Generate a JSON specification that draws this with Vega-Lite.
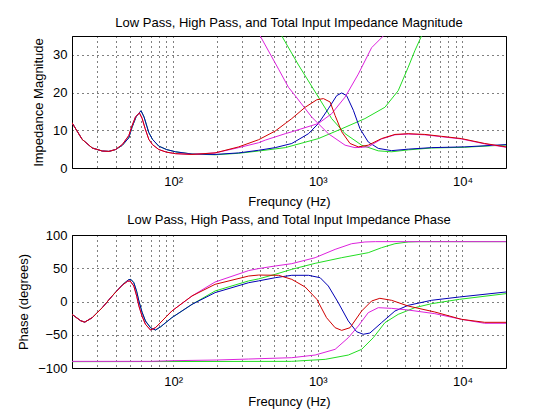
{
  "$schema": "https://vega.github.io/schema/vega-lite/v6.json",
  "padding": {"left": 17, "top": 16, "right": 5, "bottom": 5},
  "spacing": 4,
  "background": "white",
  "config": {
    "font": "Liberation Sans",
    "view": {"stroke": "black", "strokeWidth": 1},
    "title": {"fontSize": 13, "fontWeight": "normal", "color": "black", "offset": 6, "anchor": "middle"},
    "axis": {
      "labelFontSize": 13,
      "titleFontSize": 13,
      "titleFontWeight": "normal",
      "labelColor": "black",
      "titleColor": "black",
      "domain": false,
      "grid": true,
      "gridColor": "black",
      "gridDash": [1, 4],
      "gridOpacity": 1,
      "ticks": false,
      "labelPadding": 5,
      "titlePadding": 7
    }
  },
  "datasets": {
    "mag": [
      {"f": 20, "v": 12.0, "s": "LP1"}, {"f": 23.5, "v": 7.6, "s": "LP1"}, {"f": 27.6, "v": 5.3, "s": "LP1"}, {"f": 32.4, "v": 4.5, "s": "LP1"}, {"f": 36, "v": 4.4, "s": "LP1"}, {"f": 40, "v": 4.9, "s": "LP1"}, {"f": 44.5, "v": 6.0, "s": "LP1"}, {"f": 49.4, "v": 8.0, "s": "LP1"}, {"f": 52, "v": 10.8, "s": "LP1"}, {"f": 55.5, "v": 13.6, "s": "LP1"}, {"f": 60, "v": 15.2, "s": "LP1"}, {"f": 63, "v": 13.5, "s": "LP1"}, {"f": 67.9, "v": 9.4, "s": "LP1"}, {"f": 72, "v": 7.6, "s": "LP1"}, {"f": 79.6, "v": 5.8, "s": "LP1"}, {"f": 90, "v": 4.9, "s": "LP1"}, {"f": 104, "v": 4.3, "s": "LP1"}, {"f": 135, "v": 3.7, "s": "LP1"}, {"f": 195, "v": 3.5, "s": "LP1"}, {"f": 284, "v": 3.9, "s": "LP1"}, {"f": 390, "v": 4.5, "s": "LP1"}, {"f": 596, "v": 5.4, "s": "LP1"}, {"f": 1010, "v": 7.8, "s": "LP1"}, {"f": 1463, "v": 10.4, "s": "LP1"}, {"f": 2118, "v": 13.1, "s": "LP1"}, {"f": 2911, "v": 16.1, "s": "LP1"}, {"f": 3597, "v": 20.5, "s": "LP1"}, {"f": 4217, "v": 26.7, "s": "LP1"}, {"f": 4688, "v": 31.1, "s": "LP1"}, {"f": 5210, "v": 35, "s": "LP1"}, {"f": 5800, "v": 40, "s": "LP1"},
      {"f": 471, "v": 40, "s": "HP1"}, {"f": 564, "v": 35, "s": "HP1"}, {"f": 736, "v": 27.3, "s": "HP1"}, {"f": 1010, "v": 18.8, "s": "HP1"}, {"f": 1247, "v": 13.1, "s": "HP1"}, {"f": 1544, "v": 9.1, "s": "HP1"}, {"f": 2010, "v": 6.05, "s": "HP1"}, {"f": 2618, "v": 4.55, "s": "HP1"}, {"f": 3236, "v": 4.3, "s": "HP1"}, {"f": 4217, "v": 4.8, "s": "HP1"}, {"f": 6109, "v": 5.3, "s": "HP1"}, {"f": 10370, "v": 5.5, "s": "HP1"}, {"f": 20000, "v": 6.1, "s": "HP1"},
      {"f": 20, "v": 12.0, "s": "T1"}, {"f": 23.5, "v": 7.6, "s": "T1"}, {"f": 27.6, "v": 5.3, "s": "T1"}, {"f": 32.4, "v": 4.5, "s": "T1"}, {"f": 36, "v": 4.4, "s": "T1"}, {"f": 40, "v": 4.9, "s": "T1"}, {"f": 44.5, "v": 6.0, "s": "T1"}, {"f": 49.4, "v": 8.0, "s": "T1"}, {"f": 52, "v": 10.8, "s": "T1"}, {"f": 55.5, "v": 13.6, "s": "T1"}, {"f": 60, "v": 15.2, "s": "T1"}, {"f": 63, "v": 13.5, "s": "T1"}, {"f": 67.9, "v": 9.4, "s": "T1"}, {"f": 72, "v": 7.6, "s": "T1"}, {"f": 79.6, "v": 5.8, "s": "T1"}, {"f": 90, "v": 4.9, "s": "T1"}, {"f": 104, "v": 4.3, "s": "T1"}, {"f": 135, "v": 3.7, "s": "T1"}, {"f": 195, "v": 3.6, "s": "T1"}, {"f": 284, "v": 4.0, "s": "T1"}, {"f": 390, "v": 4.7, "s": "T1"}, {"f": 508, "v": 5.4, "s": "T1"}, {"f": 661, "v": 6.5, "s": "T1"}, {"f": 863, "v": 9.1, "s": "T1"}, {"f": 1010, "v": 11.8, "s": "T1"}, {"f": 1183, "v": 15.7, "s": "T1"}, {"f": 1352, "v": 19.2, "s": "T1"}, {"f": 1463, "v": 19.9, "s": "T1"}, {"f": 1581, "v": 19.2, "s": "T1"}, {"f": 1762, "v": 15.3, "s": "T1"}, {"f": 1958, "v": 10.4, "s": "T1"}, {"f": 2232, "v": 6.9, "s": "T1"}, {"f": 2618, "v": 5.2, "s": "T1"}, {"f": 3236, "v": 4.6, "s": "T1"}, {"f": 4217, "v": 5.0, "s": "T1"}, {"f": 6109, "v": 5.4, "s": "T1"}, {"f": 10370, "v": 5.6, "s": "T1"}, {"f": 20000, "v": 6.2, "s": "T1"},
      {"f": 20, "v": 12.0, "s": "LP2"}, {"f": 23.5, "v": 7.6, "s": "LP2"}, {"f": 27.6, "v": 5.3, "s": "LP2"}, {"f": 32.4, "v": 4.5, "s": "LP2"}, {"f": 36, "v": 4.4, "s": "LP2"}, {"f": 40, "v": 4.9, "s": "LP2"}, {"f": 44.5, "v": 6.2, "s": "LP2"}, {"f": 49.4, "v": 8.6, "s": "LP2"}, {"f": 52, "v": 11.2, "s": "LP2"}, {"f": 55, "v": 13.6, "s": "LP2"}, {"f": 58.5, "v": 14.6, "s": "LP2"}, {"f": 61, "v": 13.2, "s": "LP2"}, {"f": 64, "v": 10.5, "s": "LP2"}, {"f": 67.9, "v": 7.6, "s": "LP2"}, {"f": 72, "v": 6.2, "s": "LP2"}, {"f": 79.6, "v": 4.9, "s": "LP2"}, {"f": 90, "v": 4.2, "s": "LP2"}, {"f": 104, "v": 3.8, "s": "LP2"}, {"f": 135, "v": 3.6, "s": "LP2"}, {"f": 195, "v": 4.0, "s": "LP2"}, {"f": 284, "v": 5.4, "s": "LP2"}, {"f": 390, "v": 6.7, "s": "LP2"}, {"f": 434, "v": 7.4, "s": "LP2"}, {"f": 596, "v": 9.1, "s": "LP2"}, {"f": 661, "v": 9.6, "s": "LP2"}, {"f": 1010, "v": 11.8, "s": "LP2"}, {"f": 1247, "v": 14.4, "s": "LP2"}, {"f": 1544, "v": 18.8, "s": "LP2"}, {"f": 1906, "v": 24.9, "s": "LP2"}, {"f": 2355, "v": 31.9, "s": "LP2"}, {"f": 2836, "v": 35, "s": "LP2"}, {"f": 3300, "v": 40, "s": "LP2"},
      {"f": 338, "v": 40, "s": "HP2"}, {"f": 400, "v": 35, "s": "HP2"}, {"f": 536, "v": 26.2, "s": "HP2"}, {"f": 627, "v": 21.4, "s": "HP2"}, {"f": 697, "v": 19.2, "s": "HP2"}, {"f": 908, "v": 13.5, "s": "HP2"}, {"f": 1183, "v": 9.1, "s": "HP2"}, {"f": 1544, "v": 6.05, "s": "HP2"}, {"f": 1807, "v": 5.4, "s": "HP2"}, {"f": 2232, "v": 5.6, "s": "HP2"}, {"f": 2760, "v": 7.7, "s": "HP2"}, {"f": 3414, "v": 8.8, "s": "HP2"}, {"f": 4217, "v": 9.0, "s": "HP2"}, {"f": 5495, "v": 8.8, "s": "HP2"}, {"f": 7161, "v": 8.3, "s": "HP2"}, {"f": 9840, "v": 7.7, "s": "HP2"}, {"f": 14260, "v": 6.4, "s": "HP2"}, {"f": 20000, "v": 5.5, "s": "HP2"},
      {"f": 20, "v": 12.0, "s": "T2"}, {"f": 23.5, "v": 7.6, "s": "T2"}, {"f": 27.6, "v": 5.3, "s": "T2"}, {"f": 32.4, "v": 4.5, "s": "T2"}, {"f": 36, "v": 4.4, "s": "T2"}, {"f": 40, "v": 4.9, "s": "T2"}, {"f": 44.5, "v": 6.2, "s": "T2"}, {"f": 49.4, "v": 8.6, "s": "T2"}, {"f": 52, "v": 11.2, "s": "T2"}, {"f": 55, "v": 13.6, "s": "T2"}, {"f": 58.5, "v": 14.6, "s": "T2"}, {"f": 61, "v": 13.2, "s": "T2"}, {"f": 64, "v": 10.5, "s": "T2"}, {"f": 67.9, "v": 7.6, "s": "T2"}, {"f": 72, "v": 6.2, "s": "T2"}, {"f": 79.6, "v": 4.9, "s": "T2"}, {"f": 90, "v": 4.2, "s": "T2"}, {"f": 104, "v": 3.8, "s": "T2"}, {"f": 135, "v": 3.6, "s": "T2"}, {"f": 195, "v": 4.0, "s": "T2"}, {"f": 284, "v": 5.6, "s": "T2"}, {"f": 390, "v": 7.5, "s": "T2"}, {"f": 508, "v": 9.8, "s": "T2"}, {"f": 596, "v": 11.8, "s": "T2"}, {"f": 661, "v": 13.1, "s": "T2"}, {"f": 818, "v": 16.1, "s": "T2"}, {"f": 985, "v": 18.1, "s": "T2"}, {"f": 1094, "v": 18.4, "s": "T2"}, {"f": 1217, "v": 17.5, "s": "T2"}, {"f": 1318, "v": 13.9, "s": "T2"}, {"f": 1463, "v": 9.6, "s": "T2"}, {"f": 1671, "v": 6.5, "s": "T2"}, {"f": 1906, "v": 5.6, "s": "T2"}, {"f": 2232, "v": 6.05, "s": "T2"}, {"f": 2760, "v": 7.8, "s": "T2"}, {"f": 3414, "v": 8.9, "s": "T2"}, {"f": 4217, "v": 9.1, "s": "T2"}, {"f": 5495, "v": 8.9, "s": "T2"}, {"f": 7161, "v": 8.4, "s": "T2"}, {"f": 9840, "v": 7.8, "s": "T2"}, {"f": 14260, "v": 6.5, "s": "T2"}, {"f": 20000, "v": 5.6, "s": "T2"}
    ],
    "phase": [
      {"f": 20, "v": -19.3, "s": "LP1"}, {"f": 23, "v": -29, "s": "LP1"}, {"f": 24.5, "v": -31, "s": "LP1"}, {"f": 27.6, "v": -24.3, "s": "LP1"}, {"f": 32.4, "v": -9.3, "s": "LP1"}, {"f": 37.9, "v": 8.3, "s": "LP1"}, {"f": 44.5, "v": 24.8, "s": "LP1"}, {"f": 49, "v": 32.5, "s": "LP1"}, {"f": 51, "v": 33.3, "s": "LP1"}, {"f": 53.5, "v": 28.3, "s": "LP1"}, {"f": 56, "v": 15, "s": "LP1"}, {"f": 58, "v": 0.75, "s": "LP1"}, {"f": 61, "v": -16, "s": "LP1"}, {"f": 64.4, "v": -29.3, "s": "LP1"}, {"f": 69.8, "v": -39.4, "s": "LP1"}, {"f": 75.5, "v": -42.9, "s": "LP1"}, {"f": 82, "v": -38, "s": "LP1"}, {"f": 98, "v": -24.3, "s": "LP1"}, {"f": 135, "v": -4.3, "s": "LP1"}, {"f": 195, "v": 15.8, "s": "LP1"}, {"f": 333, "v": 31, "s": "LP1"}, {"f": 390, "v": 34, "s": "LP1"}, {"f": 508, "v": 40.9, "s": "LP1"}, {"f": 661, "v": 48.4, "s": "LP1"}, {"f": 959, "v": 57.4, "s": "LP1"}, {"f": 1463, "v": 65.9, "s": "LP1"}, {"f": 2232, "v": 73.4, "s": "LP1"}, {"f": 2760, "v": 80.9, "s": "LP1"}, {"f": 3414, "v": 86.9, "s": "LP1"}, {"f": 4217, "v": 89.5, "s": "LP1"}, {"f": 5000, "v": 90, "s": "LP1"}, {"f": 20000, "v": 90, "s": "LP1"},
      {"f": 20, "v": -90.5, "s": "HP1"}, {"f": 661, "v": -90, "s": "HP1"}, {"f": 1125, "v": -87, "s": "HP1"}, {"f": 1626, "v": -80.5, "s": "HP1"}, {"f": 2010, "v": -71.9, "s": "HP1"}, {"f": 2420, "v": -54.4, "s": "HP1"}, {"f": 2911, "v": -31.8, "s": "HP1"}, {"f": 3597, "v": -19.3, "s": "HP1"}, {"f": 4688, "v": -9.3, "s": "HP1"}, {"f": 6109, "v": -3.3, "s": "HP1"}, {"f": 9550, "v": 3.3, "s": "HP1"}, {"f": 20000, "v": 11.8, "s": "HP1"},
      {"f": 20, "v": -19.3, "s": "T1"}, {"f": 23, "v": -29, "s": "T1"}, {"f": 24.5, "v": -31, "s": "T1"}, {"f": 27.6, "v": -24.3, "s": "T1"}, {"f": 32.4, "v": -9.3, "s": "T1"}, {"f": 37.9, "v": 8.3, "s": "T1"}, {"f": 44.5, "v": 24.8, "s": "T1"}, {"f": 49, "v": 32.5, "s": "T1"}, {"f": 51, "v": 33.3, "s": "T1"}, {"f": 53.5, "v": 28.3, "s": "T1"}, {"f": 56, "v": 15, "s": "T1"}, {"f": 58, "v": 0.75, "s": "T1"}, {"f": 61, "v": -16, "s": "T1"}, {"f": 64.4, "v": -29.3, "s": "T1"}, {"f": 69.8, "v": -39.4, "s": "T1"}, {"f": 75.5, "v": -42.9, "s": "T1"}, {"f": 82, "v": -38, "s": "T1"}, {"f": 98, "v": -24.3, "s": "T1"}, {"f": 135, "v": -4.3, "s": "T1"}, {"f": 195, "v": 13.3, "s": "T1"}, {"f": 333, "v": 28.3, "s": "T1"}, {"f": 390, "v": 31, "s": "T1"}, {"f": 508, "v": 35.8, "s": "T1"}, {"f": 661, "v": 39.4, "s": "T1"}, {"f": 863, "v": 39.4, "s": "T1"}, {"f": 1038, "v": 35.8, "s": "T1"}, {"f": 1183, "v": 23.3, "s": "T1"}, {"f": 1386, "v": -1.8, "s": "T1"}, {"f": 1626, "v": -29.3, "s": "T1"}, {"f": 1855, "v": -45.4, "s": "T1"}, {"f": 2063, "v": -49.3, "s": "T1"}, {"f": 2292, "v": -47.4, "s": "T1"}, {"f": 2760, "v": -31.8, "s": "T1"}, {"f": 3414, "v": -14.3, "s": "T1"}, {"f": 4217, "v": -5.8, "s": "T1"}, {"f": 6109, "v": 1.8, "s": "T1"}, {"f": 9550, "v": 6.8, "s": "T1"}, {"f": 20000, "v": 14.3, "s": "T1"},
      {"f": 20, "v": -19.3, "s": "LP2"}, {"f": 23, "v": -29, "s": "LP2"}, {"f": 24.5, "v": -31, "s": "LP2"}, {"f": 27.6, "v": -24.3, "s": "LP2"}, {"f": 32.4, "v": -9.3, "s": "LP2"}, {"f": 37.9, "v": 8.3, "s": "LP2"}, {"f": 44.5, "v": 24.5, "s": "LP2"}, {"f": 48.5, "v": 30.5, "s": "LP2"}, {"f": 50.5, "v": 30.8, "s": "LP2"}, {"f": 53.5, "v": 23.3, "s": "LP2"}, {"f": 56, "v": 8, "s": "LP2"}, {"f": 58, "v": -6.8, "s": "LP2"}, {"f": 61, "v": -22, "s": "LP2"}, {"f": 64.4, "v": -34.3, "s": "LP2"}, {"f": 69.8, "v": -42.9, "s": "LP2"}, {"f": 75.5, "v": -39.4, "s": "LP2"}, {"f": 98, "v": -14.3, "s": "LP2"}, {"f": 135, "v": 8.3, "s": "LP2"}, {"f": 195, "v": 29.3, "s": "LP2"}, {"f": 333, "v": 46.5, "s": "LP2"}, {"f": 390, "v": 49.5, "s": "LP2"}, {"f": 508, "v": 53.4, "s": "LP2"}, {"f": 661, "v": 56.9, "s": "LP2"}, {"f": 959, "v": 65.9, "s": "LP2"}, {"f": 1318, "v": 78.4, "s": "LP2"}, {"f": 1714, "v": 86.9, "s": "LP2"}, {"f": 2118, "v": 89.5, "s": "LP2"}, {"f": 2500, "v": 90, "s": "LP2"}, {"f": 20000, "v": 90, "s": "LP2"},
      {"f": 20, "v": -90, "s": "HP2"}, {"f": 70, "v": -90, "s": "HP2"}, {"f": 100, "v": -89, "s": "HP2"}, {"f": 200, "v": -88, "s": "HP2"}, {"f": 333, "v": -86.5, "s": "HP2"}, {"f": 661, "v": -84.5, "s": "HP2"}, {"f": 959, "v": -80.5, "s": "HP2"}, {"f": 1318, "v": -71.9, "s": "HP2"}, {"f": 1626, "v": -54.4, "s": "HP2"}, {"f": 1906, "v": -36.8, "s": "HP2"}, {"f": 2232, "v": -16.8, "s": "HP2"}, {"f": 2618, "v": -9.3, "s": "HP2"}, {"f": 3236, "v": -10.3, "s": "HP2"}, {"f": 4217, "v": -12.8, "s": "HP2"}, {"f": 6442, "v": -18.3, "s": "HP2"}, {"f": 9840, "v": -26.8, "s": "HP2"}, {"f": 14260, "v": -32.8, "s": "HP2"}, {"f": 20000, "v": -32.8, "s": "HP2"},
      {"f": 20, "v": -19.3, "s": "T2"}, {"f": 23, "v": -29, "s": "T2"}, {"f": 24.5, "v": -31, "s": "T2"}, {"f": 27.6, "v": -24.3, "s": "T2"}, {"f": 32.4, "v": -9.3, "s": "T2"}, {"f": 37.9, "v": 8.3, "s": "T2"}, {"f": 44.5, "v": 24.5, "s": "T2"}, {"f": 48.5, "v": 30.5, "s": "T2"}, {"f": 50.5, "v": 30.8, "s": "T2"}, {"f": 53.5, "v": 23.3, "s": "T2"}, {"f": 56, "v": 8, "s": "T2"}, {"f": 58, "v": -6.8, "s": "T2"}, {"f": 61, "v": -22, "s": "T2"}, {"f": 64.4, "v": -34.3, "s": "T2"}, {"f": 69.8, "v": -42.9, "s": "T2"}, {"f": 75.5, "v": -39.4, "s": "T2"}, {"f": 98, "v": -14.3, "s": "T2"}, {"f": 135, "v": 8.3, "s": "T2"}, {"f": 195, "v": 25.8, "s": "T2"}, {"f": 333, "v": 38.3, "s": "T2"}, {"f": 390, "v": 39.8, "s": "T2"}, {"f": 536, "v": 39.4, "s": "T2"}, {"f": 661, "v": 33.3, "s": "T2"}, {"f": 818, "v": 21.8, "s": "T2"}, {"f": 985, "v": 3.3, "s": "T2"}, {"f": 1149, "v": -24.3, "s": "T2"}, {"f": 1318, "v": -39.4, "s": "T2"}, {"f": 1463, "v": -43.4, "s": "T2"}, {"f": 1671, "v": -39.4, "s": "T2"}, {"f": 2010, "v": -14.3, "s": "T2"}, {"f": 2355, "v": 0.75, "s": "T2"}, {"f": 2685, "v": 4.8, "s": "T2"}, {"f": 3236, "v": 1.8, "s": "T2"}, {"f": 4217, "v": -6.8, "s": "T2"}, {"f": 6442, "v": -15.8, "s": "T2"}, {"f": 9840, "v": -26.8, "s": "T2"}, {"f": 14260, "v": -31.3, "s": "T2"}, {"f": 20000, "v": -31.3, "s": "T2"}
    ]
  },
  "vconcat": [
    {
      "title": "Low Pass, High Pass, and Total Input Impedance Magnitude",
      "width": 434,
      "height": 132,
      "data": {"name": "mag"},
      "mark": {"type": "line", "strokeWidth": 1, "clip": true},
      "encoding": {
        "x": {
          "field": "f",
          "type": "quantitative",
          "title": "Frequncy (Hz)",
          "scale": {"type": "log", "domain": [20, 20000], "nice": false},
          "axis": {
            "values": [20, 30, 40, 50, 60, 70, 80, 90, 100, 200, 300, 400, 500, 600, 700, 800, 900, 1000, 2000, 3000, 4000, 5000, 6000, 7000, 8000, 9000, 10000, 20000],
            "labelExpr": "datum.value == 100 ? '10²' : datum.value == 1000 ? '10³' : datum.value == 10000 ? '10⁴' : ''",
            "labelOverlap": false,
            "labelFlush": false,
            "labelPadding": 7,
            "titlePadding": 7
          }
        },
        "y": {
          "field": "v",
          "type": "quantitative",
          "title": "Impedance Magnitude",
          "scale": {"domain": [0, 35], "nice": false},
          "axis": {"values": [0, 10, 20, 30]}
        },
        "color": {
          "field": "s",
          "type": "nominal",
          "scale": {"domain": ["LP1", "HP1", "T1", "LP2", "HP2", "T2"], "range": ["#22dd22", "#22dd22", "#0000b4", "#dd22dd", "#dd22dd", "#d00000"]},
          "legend": null
        }
      }
    },
    {
      "title": {"text": "Low Pass, High Pass, and Total Input Impedance Phase", "offset": 2},
      "width": 434,
      "height": 133,
      "data": {"name": "phase"},
      "mark": {"type": "line", "strokeWidth": 1, "clip": true},
      "encoding": {
        "x": {
          "field": "f",
          "type": "quantitative",
          "title": "Frequncy (Hz)",
          "scale": {"type": "log", "domain": [20, 20000], "nice": false},
          "axis": {
            "values": [20, 30, 40, 50, 60, 70, 80, 90, 100, 200, 300, 400, 500, 600, 700, 800, 900, 1000, 2000, 3000, 4000, 5000, 6000, 7000, 8000, 9000, 10000, 20000],
            "labelExpr": "datum.value == 100 ? '10²' : datum.value == 1000 ? '10³' : datum.value == 10000 ? '10⁴' : ''",
            "labelOverlap": false,
            "labelFlush": false,
            "labelPadding": 7,
            "titlePadding": 7
          }
        },
        "y": {
          "field": "v",
          "type": "quantitative",
          "title": "Phase (degrees)",
          "scale": {"domain": [-100, 100], "nice": false},
          "axis": {"values": [-100, -50, 0, 50, 100]}
        },
        "color": {
          "field": "s",
          "type": "nominal",
          "scale": {"domain": ["LP1", "HP1", "T1", "LP2", "HP2", "T2"], "range": ["#22dd22", "#22dd22", "#0000b4", "#dd22dd", "#dd22dd", "#d00000"]},
          "legend": null
        }
      }
    }
  ]
}
